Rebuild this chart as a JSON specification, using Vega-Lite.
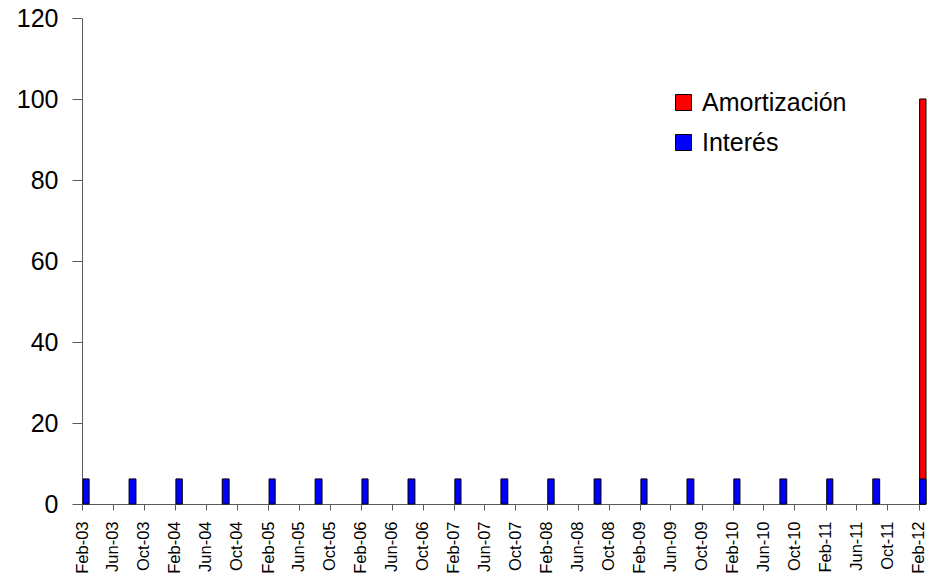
{
  "$schema": "https://vega.github.io/schema/vega-lite/v6.json",
  "autosize": {"type": "none"},
  "width": 844,
  "height": 486,
  "padding": {"left": 82, "top": 18, "right": 16, "bottom": 74},
  "background": "white",
  "config": {
    "view": {"stroke": null},
    "font": "Liberation Sans",
    "axis": {"grid": false, "domainColor": "#5a5a5a", "tickColor": "#5a5a5a", "labelColor": "black", "labelFont": "Liberation Sans"}
  },
  "data": {
    "values": [
      {"fecha": "2012-02-01", "serie": "Amortización", "valor": 100},
      {"fecha": "2003-02-01", "serie": "Interés", "valor": 6.19},
      {"fecha": "2003-08-01", "serie": "Interés", "valor": 6.19},
      {"fecha": "2004-02-01", "serie": "Interés", "valor": 6.19},
      {"fecha": "2004-08-01", "serie": "Interés", "valor": 6.19},
      {"fecha": "2005-02-01", "serie": "Interés", "valor": 6.19},
      {"fecha": "2005-08-01", "serie": "Interés", "valor": 6.19},
      {"fecha": "2006-02-01", "serie": "Interés", "valor": 6.19},
      {"fecha": "2006-08-01", "serie": "Interés", "valor": 6.19},
      {"fecha": "2007-02-01", "serie": "Interés", "valor": 6.19},
      {"fecha": "2007-08-01", "serie": "Interés", "valor": 6.19},
      {"fecha": "2008-02-01", "serie": "Interés", "valor": 6.19},
      {"fecha": "2008-08-01", "serie": "Interés", "valor": 6.19},
      {"fecha": "2009-02-01", "serie": "Interés", "valor": 6.19},
      {"fecha": "2009-08-01", "serie": "Interés", "valor": 6.19},
      {"fecha": "2010-02-01", "serie": "Interés", "valor": 6.19},
      {"fecha": "2010-08-01", "serie": "Interés", "valor": 6.19},
      {"fecha": "2011-02-01", "serie": "Interés", "valor": 6.19},
      {"fecha": "2011-08-01", "serie": "Interés", "valor": 6.19},
      {"fecha": "2012-02-01", "serie": "Interés", "valor": 6.19}
    ]
  },
  "mark": {"type": "bar", "stroke": "black", "strokeWidth": 1},
  "encoding": {
    "x": {
      "field": "fecha",
      "type": "temporal",
      "timeUnit": "utcyearmonth",
      "title": null,
      "scale": {
        "type": "utc",
        "domain": [
          {"year": 2003, "month": 2, "date": 1, "utc": true},
          {"year": 2012, "month": 3, "date": 1, "utc": true}
        ]
      },
      "axis": {
        "labelExpr": "utcFormat(datum.value, '%b-%y')",
        "labelAngle": -90,
        "labelAlign": "right",
        "labelBaseline": "middle",
        "labelFontSize": 16.5,
        "labelPadding": 11,
        "tickSize": 6,
        "labelOverlap": false,
        "labelFlush": false,
        "values": [
          {"year": 2003, "month": 2, "date": 1, "utc": true},
          {"year": 2003, "month": 6, "date": 1, "utc": true},
          {"year": 2003, "month": 10, "date": 1, "utc": true},
          {"year": 2004, "month": 2, "date": 1, "utc": true},
          {"year": 2004, "month": 6, "date": 1, "utc": true},
          {"year": 2004, "month": 10, "date": 1, "utc": true},
          {"year": 2005, "month": 2, "date": 1, "utc": true},
          {"year": 2005, "month": 6, "date": 1, "utc": true},
          {"year": 2005, "month": 10, "date": 1, "utc": true},
          {"year": 2006, "month": 2, "date": 1, "utc": true},
          {"year": 2006, "month": 6, "date": 1, "utc": true},
          {"year": 2006, "month": 10, "date": 1, "utc": true},
          {"year": 2007, "month": 2, "date": 1, "utc": true},
          {"year": 2007, "month": 6, "date": 1, "utc": true},
          {"year": 2007, "month": 10, "date": 1, "utc": true},
          {"year": 2008, "month": 2, "date": 1, "utc": true},
          {"year": 2008, "month": 6, "date": 1, "utc": true},
          {"year": 2008, "month": 10, "date": 1, "utc": true},
          {"year": 2009, "month": 2, "date": 1, "utc": true},
          {"year": 2009, "month": 6, "date": 1, "utc": true},
          {"year": 2009, "month": 10, "date": 1, "utc": true},
          {"year": 2010, "month": 2, "date": 1, "utc": true},
          {"year": 2010, "month": 6, "date": 1, "utc": true},
          {"year": 2010, "month": 10, "date": 1, "utc": true},
          {"year": 2011, "month": 2, "date": 1, "utc": true},
          {"year": 2011, "month": 6, "date": 1, "utc": true},
          {"year": 2011, "month": 10, "date": 1, "utc": true},
          {"year": 2012, "month": 2, "date": 1, "utc": true}
        ]
      }
    },
    "y": {
      "field": "valor",
      "type": "quantitative",
      "stack": null,
      "title": null,
      "scale": {"domain": [0, 120], "nice": false},
      "axis": {"values": [0, 20, 40, 60, 80, 100, 120], "labelFontSize": 25, "tickSize": 10, "labelPadding": 14}
    },
    "color": {
      "field": "serie",
      "type": "nominal",
      "scale": {"domain": ["Amortización", "Interés"], "range": ["#ff0000", "#0000ff"]},
      "legend": {
        "title": null,
        "orient": "none",
        "legendX": 589,
        "legendY": 72,
        "symbolType": "square",
        "symbolSize": 256,
        "symbolStrokeColor": "black",
        "symbolStrokeWidth": 1,
        "symbolOpacity": 1,
        "labelFontSize": 25,
        "labelColor": "black",
        "labelFont": "Liberation Sans",
        "labelOffset": 6,
        "rowPadding": 14
      }
    }
  }
}
